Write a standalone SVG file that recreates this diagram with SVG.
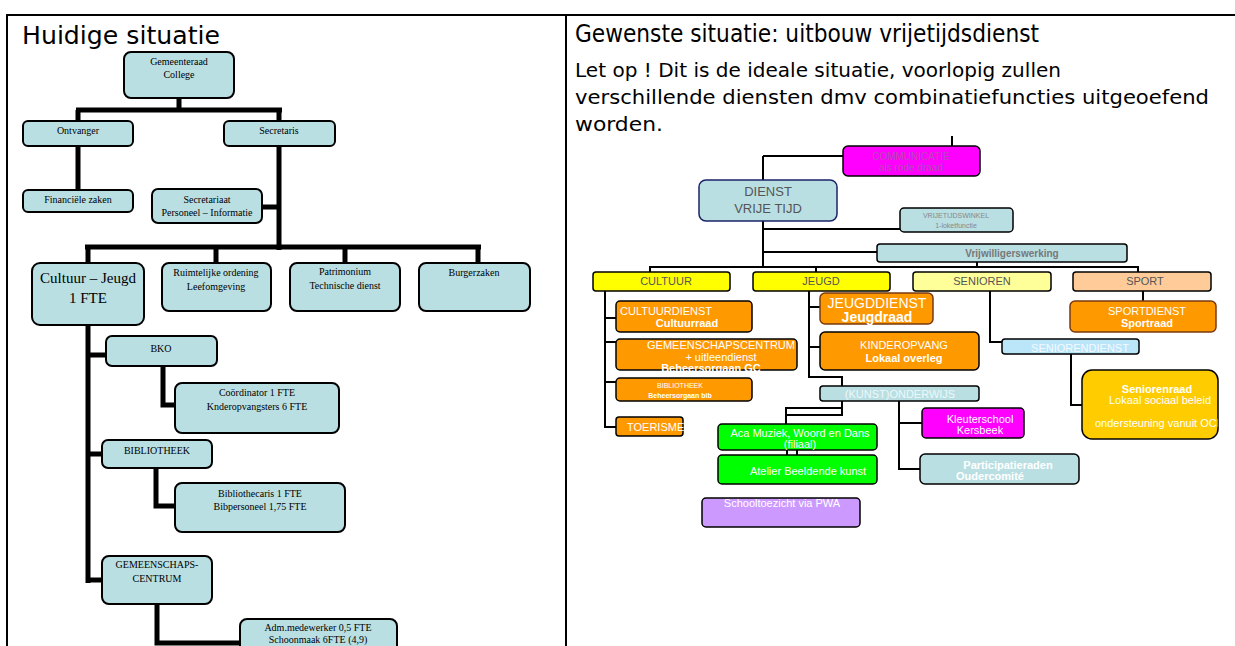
<svg xmlns="http://www.w3.org/2000/svg" width="1235" height="646" viewBox="0 0 1235 646">
<style>
.lb{fill:#B9DFE3;stroke:#000;stroke-width:2}
.lt{font-family:"Liberation Serif",serif;font-size:10px;fill:#000;text-anchor:middle}
.thick{stroke:#000;stroke-width:5;fill:none}
.thin{stroke:#000;stroke-width:2;fill:none}
.frame{stroke:#000;stroke-width:2;fill:none}
.title{font-family:"DejaVu Sans",sans-serif;font-size:24px;fill:#000}
.sub{font-family:"DejaVu Sans",sans-serif;font-size:19px;fill:#000}
.r{font-family:"Liberation Sans",Arial,sans-serif;font-size:11px;text-anchor:middle}
.w{fill:#fff}
.b{font-weight:bold}
.box{stroke:#000;stroke-width:1.5}
.or{fill:#FF9900}
.yel{fill:#FFFF00}
.lblue{fill:#B9DFE3}
</style>
<defs>
<clipPath id="srclip"><rect x="1082" y="370" width="136" height="69" rx="10"/></clipPath>
</defs>

<g id="frame">
<path class="frame" d="M6,15 H1235 M7,14 V646 M566,14 V646"/>
</g>

<text class="title" x="22" y="44" textLength="198" lengthAdjust="spacingAndGlyphs">Huidige situatie</text>
<text class="title" x="575" y="42" textLength="464" lengthAdjust="spacingAndGlyphs">Gewenste situatie: uitbouw vrijetijdsdienst</text>
<text class="sub" x="575" y="77" textLength="486" lengthAdjust="spacingAndGlyphs">Let op ! Dit is de ideale situatie, voorlopig zullen</text>
<text class="sub" x="575" y="104" textLength="634" lengthAdjust="spacingAndGlyphs">verschillende diensten dmv combinatiefuncties uitgeoefend</text>
<text class="sub" x="575" y="131" textLength="88" lengthAdjust="spacingAndGlyphs">worden.</text>

<g id="connectors">
<path class="thick" d="M179,98 V110 M76,110 H282 M78,110 V121 M279,110 V121 M78,146 V190 M279,146 V250 M262,207 H279 M85,247 H481 M88,247 V263 M216,247 V263 M345,247 V263 M478,247 V263 M88,325 V583 M88,355 H106 M88,454 H102 M88,580 H102 M163,366 V405 H175 M156,468 V506 H175 M157,604 V643 H240"/>
<path class="thin" d="M952,136 V146 M763,156 H843 M763,156 V180 M763,221 V267 M763,229 H900 M763,252 H877 M650,272 V267 H1138 V272 M816,267 V272 M977,262 V267 M605,291 V427 H616 M605,318 H616 M605,342 H616 M605,382 H616 M809,291 V377 H842 V386 M809,307 H820 M809,347 H820 M842,401 V408 M786,408 H842 V415 H786 Z M786,415 V424 M899,401 V469 H920 M899,423 H922 M787,450 V455 M797,450 V455 M990,291 V342 H1002 M1071,354 V405 H1082 M1143,291 V301"/>
</g>

<!-- left panel nodes -->
<g id="gemeenteraad"><rect class="lb" x="124" y="52" width="110" height="46" rx="7"/><text class="lt" x="179" y="65">Gemeenteraad</text><text class="lt" x="179" y="78">College</text></g>
<g id="ontvanger"><rect class="lb" x="23" y="121" width="110" height="25" rx="5"/><text class="lt" x="78" y="134">Ontvanger</text></g>
<g id="secretaris"><rect class="lb" x="224" y="121" width="111" height="25" rx="5"/><text class="lt" x="279" y="134">Secretaris</text></g>
<g id="financiele"><rect class="lb" x="23" y="190" width="110" height="22" rx="5"/><text class="lt" x="78" y="203">Financiële zaken</text></g>
<g id="secretariaat"><rect class="lb" x="152" y="189" width="110" height="34" rx="6"/><text class="lt" x="207" y="203">Secretariaat</text><text class="lt" x="207" y="216">Personeel – Informatie</text></g>
<g id="cultuur"><rect class="lb" x="32" y="263" width="112" height="62" rx="8"/><text class="lt" x="88" y="283" style="font-size:15px">Cultuur – Jeugd</text><text class="lt" x="88" y="303" style="font-size:15px">1 FTE</text></g>
<g id="ruimtelijke"><rect class="lb" x="162" y="263" width="109" height="48" rx="7"/><text class="lt" x="216" y="276">Ruimtelijke ordening</text><text class="lt" x="216" y="290">Leefomgeving</text></g>
<g id="patrimonium"><rect class="lb" x="290" y="263" width="110" height="48" rx="7"/><text class="lt" x="345" y="275">Patrimonium</text><text class="lt" x="345" y="289">Technische dienst</text></g>
<g id="burgerzaken"><rect class="lb" x="419" y="263" width="111" height="48" rx="7"/><text class="lt" x="474" y="276">Burgerzaken</text></g>
<g id="bko"><rect class="lb" x="106" y="336" width="111" height="30" rx="6"/><text class="lt" x="161" y="342" dy="10">BKO</text></g>
<g id="coordinator"><rect class="lb" x="175" y="383" width="164" height="50" rx="7"/><text class="lt" x="257" y="396">Coördinator  1 FTE</text><text class="lt" x="257" y="410">Knderopvangsters 6 FTE</text></g>
<g id="bibliotheek"><rect class="lb" x="102" y="440" width="110" height="28" rx="6"/><text class="lt" x="157" y="454">BIBLIOTHEEK</text></g>
<g id="bibliothecaris"><rect class="lb" x="175" y="483" width="170" height="49" rx="7"/><text class="lt" x="260" y="497">Bibliothecaris 1 FTE</text><text class="lt" x="260" y="510">Bibpersoneel 1,75 FTE</text></g>
<g id="gemeenschaps"><rect class="lb" x="102" y="556" width="110" height="48" rx="7"/><text class="lt" x="157" y="568">GEMEENSCHAPS-</text><text class="lt" x="157" y="582">CENTRUM</text></g>
<g id="adm"><rect class="lb" x="240" y="619" width="157" height="40" rx="7"/><text class="lt" x="318" y="631">Adm.medewerker 0,5 FTE</text><text class="lt" x="318" y="643">Schoonmaak  6FTE (4,9)</text></g>

<!-- right panel nodes -->
<g id="communicatie"><rect class="box" x="843" y="146" width="137" height="30" rx="5" fill="#FF00FF"/><text class="r" x="911" y="160" fill="#B848B8" style="font-size:10px">COMMUNICATIE</text><text class="r" x="911" y="171" fill="#B848B8" style="font-size:10px">als rode draad</text></g>
<g id="dienst"><rect x="699" y="180" width="138" height="41" rx="7" fill="#B9DFE3" stroke="#1B2466" stroke-width="1.5"/><text class="r" x="768" y="196" fill="#555" style="font-size:13px">DIENST</text><text class="r" x="768" y="213" fill="#555" style="font-size:13px">VRIJE TIJD</text></g>
<g id="winkel"><rect class="box lblue" x="900" y="208" width="113" height="24" rx="4"/><text class="r" x="956" y="218" fill="#888" style="font-size:7px">VRIJETIJDSWINKEL</text><text class="r" x="956" y="228" fill="#888" style="font-size:7px">1-loketfunctie</text></g>
<g id="vrijwilligers"><rect class="box lblue" x="877" y="244" width="250" height="18" rx="3"/><text class="r b" x="1012" y="257" fill="#777" style="font-size:10px">Vrijwilligerswerking</text></g>
<g id="cat-cultuur"><rect class="box yel" x="593" y="272" width="137" height="19" rx="3"/><text class="r" x="666" y="285" fill="#555">CULTUUR</text></g>
<g id="cat-jeugd"><rect class="box yel" x="753" y="272" width="137" height="19" rx="3"/><text class="r" x="821" y="285" fill="#555">JEUGD</text></g>
<g id="cat-senioren"><rect class="box" x="913" y="272" width="138" height="19" rx="3" fill="#FFFF99"/><text class="r" x="982" y="285" fill="#555">SENIOREN</text></g>
<g id="cat-sport"><rect class="box" x="1073" y="272" width="138" height="19" rx="3" fill="#FFCC99"/><text class="r" x="1145" y="285" fill="#555">SPORT</text></g>

<g id="cultuurdienst"><rect class="box or" x="616" y="301" width="136" height="31" rx="4"/><text class="r w" x="620" y="315" style="text-anchor:start">CULTUURDIENST</text><text class="r w b" x="687" y="327">Cultuurraad</text></g>
<g id="gc"><rect class="box or" x="616" y="339" width="181" height="31" rx="4"/><text class="r w" x="721" y="349">GEMEENSCHAPSCENTRUM</text><text class="r w" x="721" y="361">+ uitleendienst</text><text class="r w b" x="711" y="372">Beheersorgaan GC</text></g>
<g id="bib"><rect class="box or" x="616" y="378" width="136" height="23" rx="4"/><text class="r w" x="680" y="388" style="font-size:7px">BIBLIOTHEEK</text><text class="r w b" x="680" y="398" style="font-size:7px">Beheersorgaan bib</text></g>
<g id="toerisme"><rect class="box or" x="616" y="417" width="67" height="19" rx="3"/><text class="r w" x="627" y="431" style="text-anchor:start">TOERISME</text></g>

<g id="jeugddienst"><rect x="820" y="293" width="113" height="31" rx="5" fill="#FF9900" stroke="#7A3A10" stroke-width="1.5"/><text class="r w" x="877" y="308" style="font-size:14px">JEUGDDIENST</text><text class="r w b" x="877" y="322" style="font-size:14px">Jeugdraad</text></g>
<g id="kinderopvang"><rect class="box or" x="820" y="332" width="159" height="38" rx="5"/><text class="r w" x="904" y="349">KINDEROPVANG</text><text class="r w b" x="904" y="362">Lokaal overleg</text></g>
<g id="kunstonderwijs"><rect class="box lblue" x="820" y="386" width="159" height="15" rx="3"/><text class="r" x="900" y="398" fill="#EEF8FA">(KUNST)ONDERWIJS</text></g>
<g id="kleuterschool"><rect class="box" x="922" y="408" width="102" height="30" rx="4" fill="#FF00FF"/><text class="r w" x="980" y="423">Kleuterschool</text><text class="r w" x="980" y="434">Kersbeek</text></g>
<g id="participatie"><rect class="box lblue" x="920" y="454" width="159" height="30" rx="5"/><text class="r w b" x="1008" y="469">Participatieraden</text><text class="r w b" x="990" y="480">Oudercomité</text></g>
<g id="aca"><rect class="box" x="718" y="424" width="159" height="26" rx="4" fill="#00FF00"/><text class="r w" x="800" y="437">Aca Muziek, Woord en Dans</text><text class="r w" x="800" y="448">(filiaal)</text></g>
<g id="atelier"><rect class="box" x="718" y="455" width="159" height="29" rx="4" fill="#00FF00"/><text class="r w" x="808" y="475">Atelier Beeldende kunst</text></g>
<g id="schooltoezicht"><rect class="box" x="702" y="498" width="158" height="29" rx="4" fill="#CC99FF"/><text class="r w" x="782" y="507">Schooltoezicht via PWA</text></g>

<g id="seniorendienst"><rect class="box" x="1002" y="339" width="137" height="15" rx="3" fill="#BBE6FA"/><text class="r" x="1080" y="352" fill="#F4FAFF">SENIORENDIENST</text></g>
<g id="seniorenraad"><rect class="box" x="1082" y="370" width="136" height="69" rx="10" fill="#FFCC00"/><text class="r w b" x="1157" y="393">Seniorenraad</text><text class="r w" x="1160" y="404">Lokaal sociaal beleid</text><text class="r w" x="1095" y="427" style="text-anchor:start" clip-path="url(#srclip)">ondersteuning vanuit OCMW</text></g>
<g id="sportdienst"><rect x="1070" y="301" width="146" height="31" rx="5" fill="#FF9900" stroke="#7A3A10" stroke-width="1.5"/><text class="r w" x="1147" y="315">SPORTDIENST</text><text class="r w b" x="1147" y="327">Sportraad</text></g>
</svg>
